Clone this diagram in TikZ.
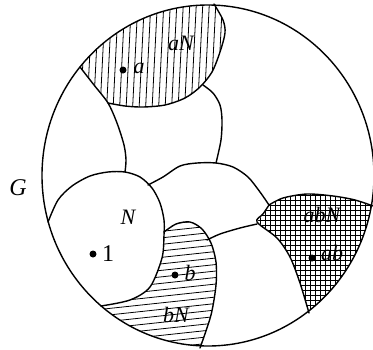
\documentclass[tikz,border=0pt]{standalone}
\usepackage{fontspec}
\setmainfont{Liberation Serif}
\begin{document}
\begin{tikzpicture}[x=1pt,y=-1pt, line join=round, line cap=round,
  bd/.style={line width=1.4pt},
  hatch/.style={line width=0.8pt},
  lab/.style={font=\fontsize{22}{22}\selectfont\itshape, inner sep=0pt},
  dotn/.style={circle, fill=black, inner sep=0pt, minimum size=7pt}]
\useasboundingbox (0,0) rectangle (373,349);
\def\bigc{(208,175.5) ellipse [x radius=166pt, y radius=170.5pt]}
% aN hatching (vertical)
\begin{scope}
  \clip \bigc;
  \clip (70,58) -- (80,67) -- (108,103) -- plot[smooth] coordinates {(108,103) (125,106) (143,107) (165,105) (185,98) (200,87) (212,72) (220,52) (225,33) (223,20) (214,4)} -- (216,-10) -- (60,-10) -- cycle;
  \foreach \x in {60,66.5,...,245} \draw[hatch] (\x,0) -- (\x-6,120);
\end{scope}
% bN hatching (horizontal)
\begin{scope}
  \clip \bigc;
  \clip plot[smooth] coordinates {(164,232) (162,258) (150,287) (130,300) (102,306)} -- (90,370) -- (205,370) -- plot[smooth] coordinates {(200,348) (211,315) (216,285) (216,262) (211,243) (202,229) (190,222) (176,224) (164,232)} -- cycle;
  \foreach \y in {200,206.5,...,380} \draw[hatch] (90,\y) -- (230,\y-15);
\end{scope}
% abN cross-hatching
\begin{scope}
  \clip \bigc;
  \clip plot[smooth] coordinates {(269,205) (283,198) (307,194) (333,196) (355,200) (376,207)} -- (395,330) -- (309,330) -- plot[smooth] coordinates {(309,313) (300,283) (290,257) (277,238) (257,222)} -- (263,214) -- cycle;
  \foreach \x in {250,255,...,380} \draw[hatch] (\x,185) -- (\x,335);
  \foreach \y in {185,190,...,335} \draw[hatch] (250,\y) -- (380,\y);
\end{scope}
% boundaries
\draw[bd] plot[smooth] coordinates {(80,67) (94,85) (108,103) (117,123) (124,145) (126,160) (125,172)};
\draw[bd] plot[smooth] coordinates {(108,103) (125,106) (143,107) (165,105) (185,98) (200,87) (212,72) (220,52) (225,33) (223,20) (214,4)};
\draw[bd] plot[smooth] coordinates {(203,85) (213,93) (220,105) (222,120) (221,140) (216,163)};
\draw[bd] plot[smooth] coordinates {(148,185) (163,177) (180,166) (197,163) (216,163) (233,167) (248,177) (260,192) (269,205)};
\draw[bd] plot[smooth] coordinates {(48,222) (58,200) (72,186) (90,176) (108,172) (125,172) (140,177) (152,188) (160,203) (164,220) (164,235) (162,258) (150,287) (130,300) (101,306)};
\draw[bd] plot[smooth] coordinates {(164,232) (176,224) (190,222) (202,229) (211,243) (216,262) (216,285) (211,315) (200,348)};
\draw[bd] plot[smooth] coordinates {(207,240) (220,234) (240,228) (257,224)};
\draw[bd] plot[smooth] coordinates {(269,205) (283,198) (307,194) (333,196) (355,200) (376,207)};
\draw[bd] plot[smooth] coordinates {(269,205) (263,214) (257,222) (277,238) (290,257) (300,283) (309,313)};
\draw[bd] \bigc;
% dots and labels
\node[dotn] (da) at (123,70) {};
\node[dotn] (d1) at (93,254) {};
\node[dotn] (db) at (175,275) {};
\node[dotn] (dab) at (312,258) {};
\node[lab] (la) at (139,68) {a};
\node[lab] (laN) at (181,43) {aN};
\node[lab] (lN) at (128,217) {N};
\node[lab, font=\fontsize{24}{24}\selectfont] (l1) at (108,254) {1};
\node[lab] (lb) at (190,273) {b};
\node[lab] (lbN) at (176,315) {bN};
\node[lab] (lab) at (332,253) {ab};
\node[lab] (labN) at (322,215) {abN};
\node[lab, font=\fontsize{24}{24}\selectfont\itshape] (lG) at (18,188) {G};
\end{tikzpicture}
\end{document}
